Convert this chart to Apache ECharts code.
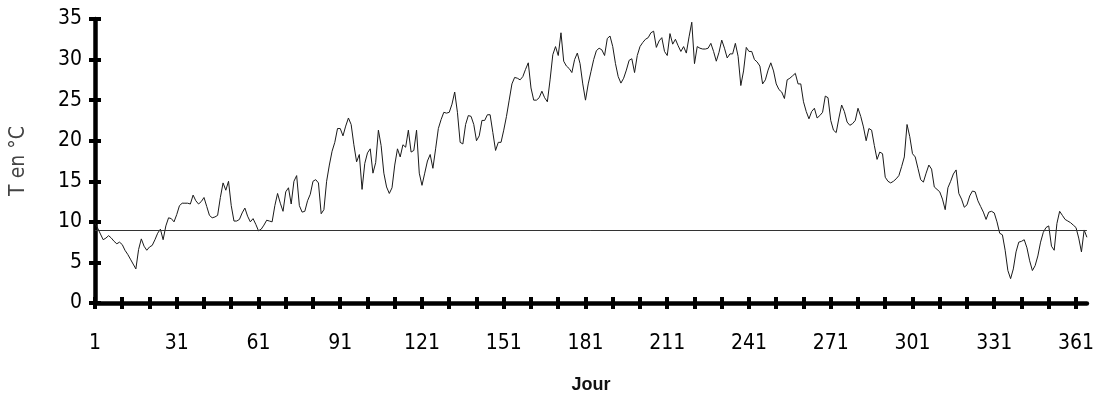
<!DOCTYPE html>
<html>
<head>
<meta charset="utf-8">
<script src="https://cdn.jsdelivr.net/npm/echarts@6/dist/echarts.min.js"></script>
<style>
  html, body { margin: 0; padding: 0; background: #fff; }
  #chart { width: 1097px; height: 400px; }
</style>
</head>
<body>
<div id="chart"></div>
<script>
// Daily mean temperature over one year (°C), day 1 .. 365
const temps = [
  9.8, 9.2, 8.5, 7.8, 8.0, 8.3, 8.0, 7.6, 7.3, 7.5,
  7.2, 6.5, 6.0, 5.4, 4.8, 4.2, 6.6, 7.9, 7.0, 6.5,
  6.9, 7.1, 7.8, 8.6, 9.1, 7.8, 9.5, 10.5, 10.4, 10.0,
  10.9, 12.0, 12.3, 12.3, 12.3, 12.2, 13.3, 12.6, 12.2, 12.5,
  13.0, 11.9, 10.8, 10.5, 10.6, 10.8, 13.0, 14.8, 13.9, 15.0,
  12.0, 10.1, 10.1, 10.3, 11.1, 11.7, 10.7, 10.0, 10.4, 9.7,
  8.9, 9.1, 9.6, 10.2, 10.1, 10.0, 12.0, 13.5, 12.3, 11.3,
  13.7, 14.2, 12.2, 15.0, 15.7, 12.0, 11.2, 11.3, 12.6, 13.4,
  15.0, 15.2, 14.8, 11.0, 11.5, 15.0, 17.0, 18.7, 19.8, 21.5,
  21.5, 20.6, 21.8, 22.8, 22.0, 19.5, 17.4, 18.3, 14.0, 17.2,
  18.5, 19.0, 16.0, 17.3, 21.3, 19.4, 16.0, 14.3, 13.5, 14.2,
  17.0, 19.0, 18.0, 19.5, 19.2, 21.3, 18.6, 18.8, 21.3, 16.0,
  14.5, 16.0, 17.5, 18.3, 16.6, 19.0, 21.5, 22.6, 23.5, 23.4,
  23.5, 24.5, 26.0, 23.5, 19.8, 19.6, 22.0, 23.1, 23.0, 22.0,
  20.0, 20.6, 22.5, 22.5, 23.2, 23.2, 21.0, 18.8, 19.8, 19.8,
  21.3, 23.0, 25.0, 27.0, 27.8, 27.7, 27.5, 27.9, 28.8, 29.6,
  26.5, 25.0, 25.0, 25.3, 26.1, 25.3, 24.8, 27.5, 30.6, 31.6,
  30.5, 33.3, 29.8, 29.2, 28.9, 28.4, 30.0, 30.8, 29.5, 27.0,
  25.0, 27.0, 28.5, 30.0, 31.1, 31.4, 31.2, 30.5, 32.6, 32.9,
  31.6, 29.5, 27.9, 27.1, 27.7, 28.7, 29.9, 30.1, 28.4, 30.5,
  31.6, 32.1, 32.5, 32.7, 33.3, 33.5, 31.5, 32.3, 32.7, 31.0,
  30.5, 33.2, 31.9, 32.5, 31.7, 31.0, 31.6, 30.8, 32.8, 34.6,
  29.5, 31.6, 31.4, 31.3, 31.3, 31.4, 32.0, 31.0, 29.8, 30.9,
  32.4, 31.4, 30.2, 30.7, 30.7, 32.0, 30.4, 26.8, 28.6, 31.5,
  31.0, 31.0, 30.0, 29.7, 29.2, 27.0, 27.5, 28.7, 29.6, 28.6,
  27.0, 26.3, 26.0, 25.2, 27.5, 27.7, 28.0, 28.3, 27.0, 27.0,
  24.8, 23.6, 22.7, 23.6, 24.0, 22.8, 23.1, 23.5, 25.5, 25.3,
  22.5, 21.3, 21.0, 22.8, 24.4, 23.6, 22.3, 21.9, 22.1, 22.5,
  24.0, 23.0, 21.7, 20.0, 21.5, 21.3, 19.4, 17.7, 18.6, 18.4,
  15.5, 15.0, 14.8, 15.0, 15.3, 15.7, 16.8, 18.0, 22.0, 20.5,
  18.4, 18.0, 16.6, 15.2, 14.9, 16.0, 17.0, 16.5, 14.3, 14.0,
  13.7, 12.8, 11.5, 14.2, 15.0, 15.9, 16.4, 13.5, 12.8, 11.8,
  12.1, 13.2, 13.8, 13.7, 12.6, 11.9, 11.2, 10.3, 11.2, 11.3,
  11.1, 10.0, 8.6, 8.4, 6.5, 4.0, 3.0, 4.2, 6.3, 7.5,
  7.6, 7.8, 6.8, 5.2, 4.0, 4.6, 5.8, 7.5, 8.7, 9.3,
  9.5, 7.0, 6.5, 9.8, 11.3, 10.8, 10.3, 10.1, 9.9, 9.6,
  9.3, 8.0, 6.3, 9.0, 8.1
];

// Day numbers used as categories
const days = [];
for (let d = 1; d <= temps.length; d++) days.push(String(d));

// Reference level drawn as a horizontal line
const threshold = 9;

// Axis settings
const yMin = 0, yMax = 35, yStep = 5;
const labelEvery = 30;  // 1, 31, 61, ...
const tickEvery = 10;

const labelFont = "'Liberation Sans Narrow', 'DejaVu Sans Condensed', 'Liberation Sans', sans-serif";

const chart = echarts.init(document.getElementById('chart'), null, { renderer: 'canvas' });

const tickStyle = { color: '#000', width: 4 };

chart.setOption({
  animation: false,
  backgroundColor: '#fff',
  grid: { left: 93, right: 10, top: 19, bottom: 97 },
  xAxis: [
    {
      type: 'category',
      data: days,
      boundaryGap: false,
      position: 'bottom',
      axisLine: { show: true, onZero: false, lineStyle: { color: '#000', width: 4.5 } },
      axisTick: { show: true, interval: tickEvery - 1, length: 6, lineStyle: tickStyle },
      axisLabel: {
        interval: labelEvery - 1,
        margin: 30,
        color: '#000',
        fontSize: 21,
        fontFamily: labelFont
      },
      splitLine: { show: false },
      name: 'Jour',
      nameLocation: 'middle',
      nameGap: 73,
      nameTextStyle: { color: '#111', fontSize: 18, fontWeight: 'bold', fontFamily: "'Liberation Sans', Arial, sans-serif" }
    },
    {
      type: 'category',
      data: days,
      boundaryGap: false,
      position: 'bottom',
      offset: 0,
      axisLine: { show: false, onZero: false },
      axisTick: { show: true, inside: true, interval: tickEvery - 1, length: 6, lineStyle: tickStyle },
      axisLabel: { show: false },
      splitLine: { show: false }
    }
  ],
  yAxis: [
    {
      type: 'value',
      min: yMin,
      max: yMax,
      interval: yStep,
      position: 'left',
      axisLine: { show: true, onZero: false, lineStyle: { color: '#000', width: 4.5 } },
      axisTick: { show: true, length: 6, lineStyle: tickStyle },
      axisLabel: {
        margin: 13,
        color: '#000',
        fontSize: 21,
        fontFamily: labelFont
      },
      splitLine: { show: false },
      name: 'T en °C',
      nameLocation: 'middle',
      nameGap: 66,
      nameRotate: 90,
      nameTextStyle: { color: '#444', fontSize: 21, fontFamily: labelFont }
    },
    {
      type: 'value',
      min: yMin,
      max: yMax,
      interval: yStep,
      position: 'left',
      offset: 0,
      axisLine: { show: false, onZero: false },
      axisTick: { show: true, inside: true, length: 6, lineStyle: tickStyle },
      axisLabel: { show: false },
      splitLine: { show: false }
    }
  ],
  series: [
    {
      type: 'line',
      data: temps,
      xAxisIndex: 0,
      yAxisIndex: 0,
      symbol: 'none',
      smooth: false,
      lineStyle: { color: '#1a1a1a', width: 1 },
      z: 3,
      markLine: {
        silent: true,
        symbol: 'none',
        label: { show: false },
        lineStyle: { color: '#333', width: 1, type: 'solid' },
        data: [{ yAxis: threshold }]
      }
    }
  ]
});
</script>
</body>
</html>
